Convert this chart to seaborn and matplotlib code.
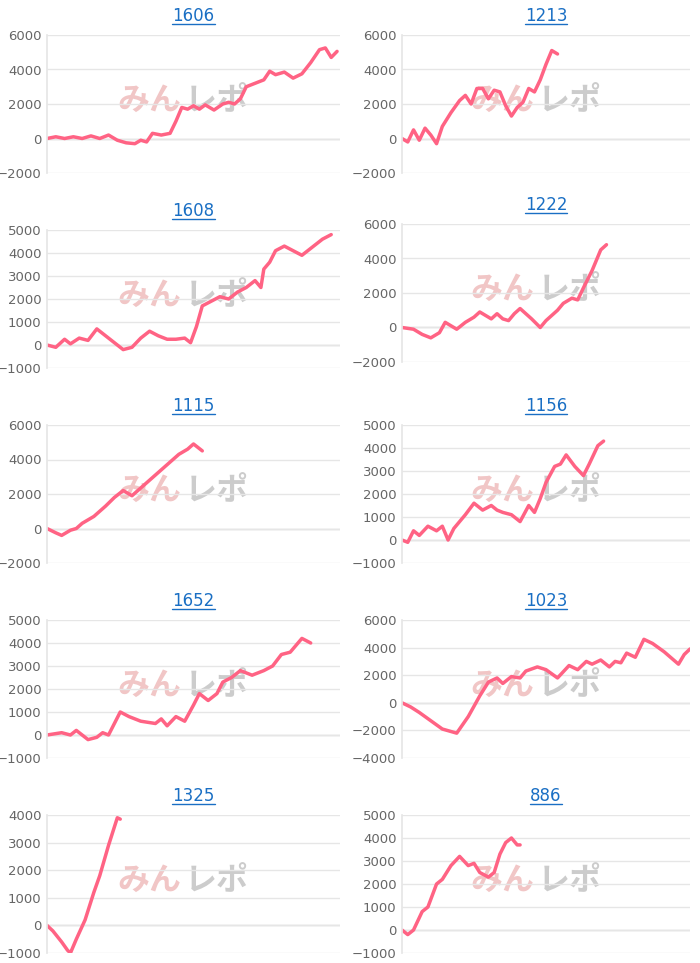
import matplotlib
matplotlib.use("Agg")
import matplotlib.pyplot as plt
import seaborn as sns
import pandas as pd

sns.set_theme(style="white")
plt.rcParams['font.family'] = ['DejaVu Sans', 'Noto Sans CJK JP']

titles = ["1606", "1213", "1608", "1222", "1115", "1156", "1652", "1023", "1325", "886"]

x_1606 = [0,3,6,9,12,15,18,21,24,27,30,32,34,36,39,42,44,46,48,50,52,54,57,60,62,64,66,68,71,74,76,78,81,84,87,90,93,95,97,99]
y_1606 = [0,100,0,100,0,150,0,200,-100,-250,-300,-100,-200,300,200,300,1000,1800,1700,1900,1700,1950,1650,2000,2100,2000,2300,3000,3200,3400,3900,3700,3850,3500,3750,4400,5150,5250,4700,5050]

x_1213 = [0,2,4,6,8,10,12,14,17,20,22,24,26,28,30,32,34,36,38,40,42,44,46,48,50,52,54]
y_1213 = [0,-200,500,-100,600,200,-300,700,1500,2200,2500,2000,2900,2900,2300,2800,2700,1900,1300,1800,2100,2900,2700,3400,4300,5100,4900]

x_1608 = [0,3,6,8,11,14,17,20,23,26,29,32,35,38,41,44,47,49,51,53,56,59,62,65,68,71,73,74,76,78,81,84,87,89,91,94,97]
y_1608 = [0,-100,250,50,300,200,700,400,100,-200,-100,300,600,400,250,250,300,100,800,1700,1900,2100,2000,2300,2500,2800,2500,3300,3600,4100,4300,4100,3900,4100,4300,4600,4800]

x_1222 = [0,4,7,10,13,15,17,19,22,25,27,29,31,33,35,37,39,41,43,45,48,50,52,54,56,59,61,63,66,69,71]
y_1222 = [0,-100,-400,-600,-300,300,100,-100,300,600,900,700,500,800,500,400,800,1100,800,500,0,400,700,1000,1400,1700,1600,2300,3300,4500,4800]

x_1115 = [0,3,5,8,10,12,16,20,23,26,29,31,33,35,37,39,41,43,45,48,50,53]
y_1115 = [0,-250,-400,-100,0,300,700,1300,1800,2200,1900,2200,2500,2800,3100,3400,3700,4000,4300,4600,4900,4500]

x_1156 = [0,2,4,6,9,12,14,16,18,20,22,25,28,31,33,35,38,41,44,46,48,50,53,55,57,60,63,65,68,70]
y_1156 = [0,-100,400,200,600,400,600,0,500,800,1100,1600,1300,1500,1300,1200,1100,800,1500,1200,1800,2500,3200,3300,3700,3200,2800,3300,4100,4300]

x_1652 = [0,5,8,10,14,17,19,21,23,25,28,32,37,39,41,44,47,50,52,55,58,60,63,66,70,74,77,80,83,87,90]
y_1652 = [0,100,0,200,-200,-100,100,0,500,1000,800,600,500,700,400,800,600,1300,1800,1500,1800,2300,2500,2800,2600,2800,3000,3500,3600,4200,4000]

x_1023 = [0,3,6,10,14,19,23,27,30,33,35,38,41,43,47,50,54,58,61,64,66,69,72,74,76,78,81,84,87,91,96,98,100]
y_1023 = [0,-300,-700,-1300,-1900,-2200,-1000,500,1500,1800,1400,1900,1800,2300,2600,2400,1800,2700,2400,3000,2800,3100,2600,3000,2900,3600,3300,4600,4300,3700,2800,3500,3900]

x_1325 = [0,2,5,7,8,10,13,16,18,21,24,25]
y_1325 = [0,-200,-600,-900,-1000,-500,200,1200,1800,2900,3900,3850]

x_886 = [0,2,4,7,9,12,14,17,20,23,25,27,30,32,34,36,38,40,41]
y_886 = [0,-200,0,800,1000,2000,2200,2800,3200,2800,2900,2500,2300,2500,3300,3800,4000,3700,3700]

series = [(x_1606, y_1606), (x_1213, y_1213), (x_1608, y_1608), (x_1222, y_1222),
          (x_1115, y_1115), (x_1156, y_1156), (x_1652, y_1652), (x_1023, y_1023),
          (x_1325, y_1325), (x_886, y_886)]
ylims = [(-2000, 6000, 2000), (-2000, 6000, 2000), (-1000, 5000, 1000), (-2000, 6000, 2000),
         (-2000, 6000, 2000), (-1000, 5000, 1000), (-1000, 5000, 1000), (-4000, 6000, 2000),
         (-1000, 4000, 1000), (-1000, 5000, 1000)]

W, H = 700, 963
fig = plt.figure(figsize=(7, 9.63), dpi=100)
for i, (t, (xs, ys), (lo, hi, st)) in enumerate(zip(titles, series, ylims)):
    r, c = divmod(i, 2)
    left = 47 if c == 0 else 402
    right = 340 if c == 0 else 690
    top = 35 + 195 * r - (6 if (r == 1 and c == 1) else 0)
    h = 138
    ax = fig.add_axes([left / W, 1 - (top + h) / H, (right - left) / W, h / H])
    df = pd.DataFrame({"x": xs, "y": ys})
    sns.lineplot(data=df, x="x", y="y", ax=ax, color="#ff6384", linewidth=2.5)
    ax.set_xlim(0, 100)
    ax.set_ylim(lo, hi)
    ax.set_yticks(range(lo, hi + 1, st))
    ax.set_xticks([])
    ax.set_xlabel("")
    ax.set_ylabel("")
    ax.grid(axis="y", color="#e6e6e6", linewidth=1)
    ax.axhline(0, color="#cccccc", linewidth=1, zorder=0)
    for s in ["top", "right", "bottom"]:
        ax.spines[s].set_visible(False)
    ax.spines["left"].set_color("#e6e6e6")
    ax.tick_params(axis="y", labelsize=9.5, colors="#666666", length=0, pad=4)
    ax.set_title(t, fontsize=12, color="#1a6fc4", pad=10, family="DejaVu Sans")
    ax.text(0.46, 0.52, "みん", transform=ax.transAxes, fontsize=23, fontweight="bold",
            style="italic", color="#e8a0a0", alpha=0.6, ha="right", va="center",
            family=["Noto Sans CJK JP"], zorder=0)
    ax.text(0.47, 0.52, "レポ", transform=ax.transAxes, fontsize=23, fontweight="bold",
            style="italic", color="#aaaaaa", alpha=0.6, ha="left", va="center",
            family=["Noto Sans CJK JP"], zorder=0)
    fig.canvas.draw()
    bb = ax.title.get_window_extent()
    fig.add_artist(plt.Line2D([bb.x0 / W, bb.x1 / W], [(bb.y0 + 1) / H, (bb.y0 + 1) / H],
                              color="#1a6fc4", linewidth=1))
fig.savefig("out.png", dpi=100)
